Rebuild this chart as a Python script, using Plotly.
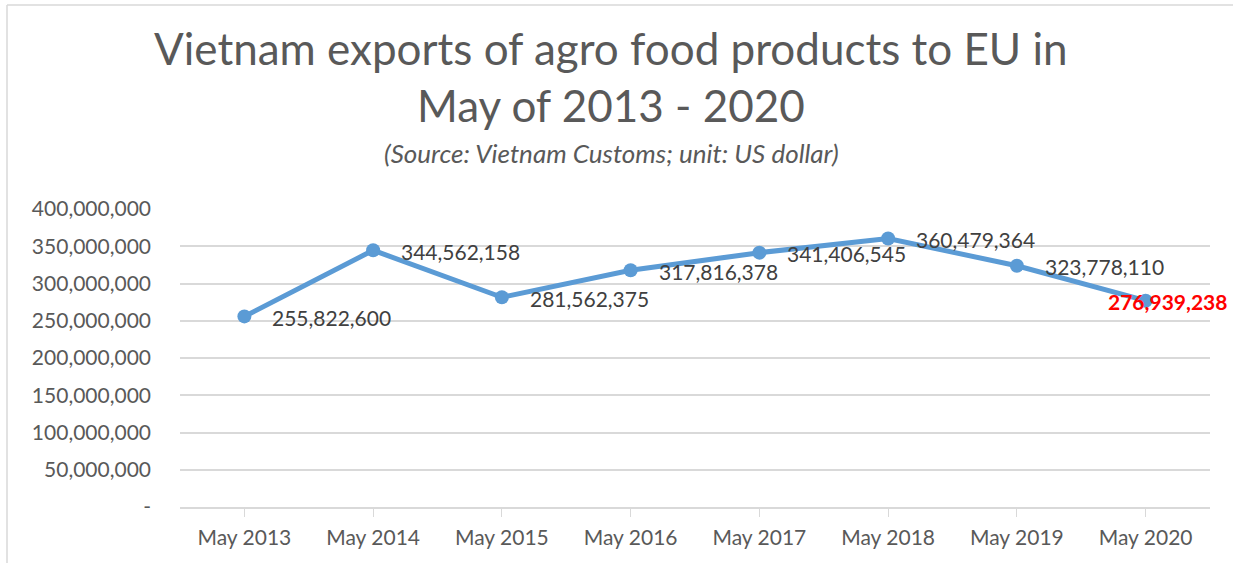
import plotly.graph_objects as go

# Export values of agro food products to the EU, month of May each year (US dollar)
months = ["May 2013", "May 2014", "May 2015", "May 2016",
          "May 2017", "May 2018", "May 2019", "May 2020"]
exports_usd = [255822600, 344562158, 281562375, 317816378,
               341406545, 360479364, 323778110, 276939238]

y_tick_vals = [0, 50000000, 100000000, 150000000, 200000000,
               250000000, 300000000, 350000000, 400000000]
y_tick_text = ["-", "50,000,000", "100,000,000", "150,000,000", "200,000,000",
               "250,000,000", "300,000,000", "350,000,000", "400,000,000"]

FONT = "Lato, 'Open Sans', sans-serif"
LINE_BLUE = "#5B9BD5"
TEXT_GRAY = "#595959"
GRID_GRAY = "#D9D9D9"

# plot-area geometry in pixels
PLOT_L, PLOT_R, PLOT_T, PLOT_B = 180, 1210, 209, 507
PW, PH = PLOT_R - PLOT_L, PLOT_B - PLOT_T


def px_x(px):
    return (px - PLOT_L) / PW


def px_y(py):
    return (PLOT_B - py) / PH


x_idx = list(range(len(months)))
labels = [f"{v:,}" for v in exports_usd]

fig = go.Figure()

fig.add_trace(go.Scatter(
    x=x_idx,
    y=exports_usd,
    mode="lines+markers",
    line=dict(color=LINE_BLUE, width=5),
    marker=dict(color=LINE_BLUE, size=14),
    cliponaxis=False,
    hoverinfo="skip",
    showlegend=False,
))

# Value labels to the right of each point
for xi, val, lab in zip(x_idx[:-1], exports_usd[:-1], labels[:-1]):
    fig.add_annotation(
        x=xi, y=val, text=lab, showarrow=False,
        xanchor="left", yanchor="middle",
        xshift=26, yshift=-1,
        font=dict(family=FONT, size=21, color="#404040"),
    )

# Highlighted label for the latest year
fig.add_annotation(
    x=x_idx[-1], y=exports_usd[-1],
    text=f"<b>{labels[-1]}</b>",
    showarrow=False,
    xanchor="center", yanchor="middle",
    xshift=22, yshift=-1,
    font=dict(family=FONT, size=21, color="#FF0000"),
)

# Title block
TITLE_X = px_x(611)
fig.add_annotation(
    x=TITLE_X, xref="paper", y=px_y(48), yref="paper", yanchor="middle",
    text="Vietnam exports of agro food products to EU in",
    showarrow=False, font=dict(family=FONT, size=44, color=TEXT_GRAY),
)
fig.add_annotation(
    x=TITLE_X, xref="paper", y=px_y(105), yref="paper", yanchor="middle",
    text="May of 2013 - 2020",
    showarrow=False, font=dict(family=FONT, size=44, color=TEXT_GRAY),
)
fig.add_annotation(
    x=TITLE_X, xref="paper", y=px_y(153), yref="paper", yanchor="middle",
    text="<i>(Source: Vietnam Customs; unit: US dollar)</i>",
    showarrow=False, font=dict(family=FONT, size=26, color=TEXT_GRAY),
)

# Chart-area frame (left and top edges)
fig.add_shape(type="line", xref="paper", yref="paper",
              x0=px_x(7), x1=px_x(7), y0=px_y(563), y1=px_y(5),
              line=dict(color=GRID_GRAY, width=1.5))
fig.add_shape(type="line", xref="paper", yref="paper",
              x0=px_x(7), x1=px_x(1233), y0=px_y(5), y1=px_y(5),
              line=dict(color=GRID_GRAY, width=1.5))

fig.update_xaxes(
    range=[-0.5, len(months) - 0.5],
    tickvals=x_idx,
    ticktext=months,
    ticks="outside",
    tickson="boundaries",
    ticklen=8,
    tickcolor=GRID_GRAY,
    showline=True,
    linecolor=GRID_GRAY,
    linewidth=1.5,
    showgrid=False,
    zeroline=False,
    automargin=False,
    ticklabelstandoff=3,
    tickfont=dict(family=FONT, size=21, color=TEXT_GRAY),
)
fig.update_yaxes(
    range=[0, 400000000],
    tickvals=y_tick_vals,
    ticktext=y_tick_text,
    showgrid=True,
    gridcolor=GRID_GRAY,
    gridwidth=1.5,
    zeroline=False,
    showline=False,
    ticks="",
    automargin=False,
    ticklabelstandoff=28,
    tickfont=dict(family=FONT, size=21, color=TEXT_GRAY),
)

fig.update_layout(
    width=1233,
    height=563,
    margin=dict(l=PLOT_L, r=1233 - PLOT_R, t=PLOT_T, b=563 - PLOT_B),
    paper_bgcolor="white",
    plot_bgcolor="white",
)

fig.write_html("out.html")
